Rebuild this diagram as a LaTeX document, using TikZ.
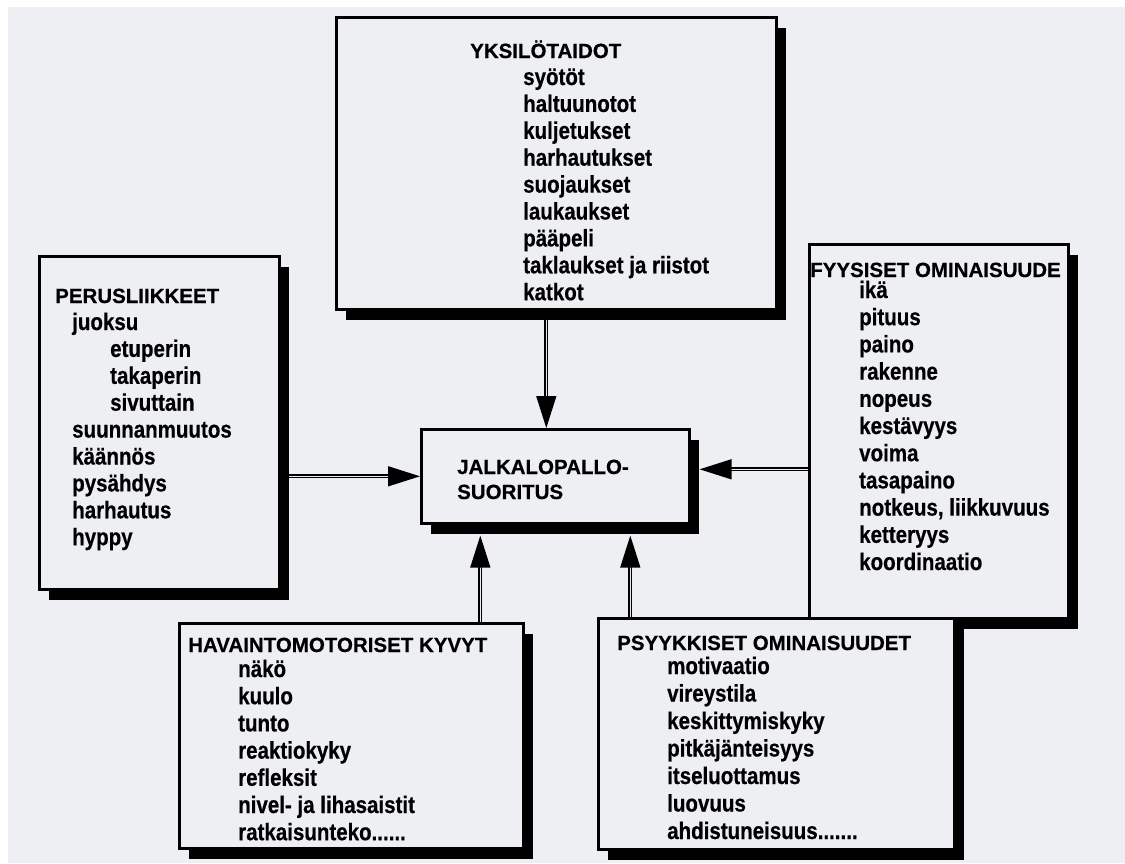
\documentclass[tikz,border=0pt]{standalone}
\usepackage{fontspec}
\setmainfont{Liberation Sans}[FakeBold=0.5]
\newfontfamily\itemfont{Liberation Sans}[FakeStretch=0.855, FakeBold=0.5]
\usetikzlibrary{arrows.meta,shadows,backgrounds}
\definecolor{paper}{RGB}{237,239,242}
\newcommand{\mysixdots}{......}
\newcommand{\mysevendots}{.......}
\begin{document}
\begin{tikzpicture}[x=1pt,y=-1pt,
  box/.style={draw=black, line width=2.6pt, fill=paper, anchor=north west, inner sep=0pt,
    general shadow={fill=black, shadow xshift=10pt, shadow yshift=-11pt}},
  txt/.style={anchor=base west, inner sep=0pt, font=\bfseries\fontsize{20.5}{24}\selectfont},
  itm/.style={anchor=base west, inner sep=0pt, font=\itemfont\bfseries\fontsize{24}{28}\selectfont},
  conn/.style={line width=1.4pt, double=paper, double distance=1.4pt,
    -{Triangle[length=32pt,width=20pt]}}]
\useasboundingbox (0,0) rectangle (1125,863);

% boxes
\node[box, minimum width=440pt, minimum height=292pt] (yks) at (335,16) {};
\node[box, minimum width=240pt, minimum height=333pt] (per) at (38,255) {};
\node[box, minimum width=259pt, minimum height=374pt] (fyy) at (808,243) {};
\node[box, minimum width=268pt, minimum height=94pt] (jal) at (420,428) {};
\node[box, minimum width=344pt, minimum height=225pt] (hav) at (178,622) {};
\node[box, minimum width=356pt, minimum height=231pt] (psy) at (597,617) {};

% texts
\node[txt] (yksT) at (470,58) {YKSILÖTAIDOT};
\foreach \t [count=\i] in {syötöt, haltuunotot, kuljetukset, harhautukset, suojaukset,
  laukaukset, pääpeli, taklaukset ja riistot, katkot}
  \node[itm] (yks\i) at (523,{85+26.9*(\i-1)}) {\t};

\node[txt] (perT) at (55,303) {PERUSLIIKKEET};
\foreach \xx/\t [count=\i] in {72/juoksu, 110/etuperin, 110/takaperin, 110/sivuttain,
  72/suunnanmuutos, 72/käännös, 72/pysähdys, 72/harhautus, 72/hyppy}
  \node[itm] (per\i) at (\xx,{330+26.9*(\i-1)}) {\t};

\node[txt] (fyyT) at (810,277) {FYYSISET OMINAISUUDE};
\foreach \t [count=\i] in {ikä, pituus, paino, rakenne, nopeus, kestävyys, voima,
  tasapaino, {notkeus, liikkuvuus}, ketteryys, koordinaatio}
  \node[itm] (fyy\i) at (859,{298+27.2*(\i-1)}) {\t};

\node[txt] (jal1) at (457,474) {JALKALOPALLO-};
\node[txt] (jal2) at (457,499) {SUORITUS};

\node[txt] (havT) at (188,652) {HAVAINTOMOTORISET KYVYT};
\foreach \t [count=\i] in {näkö, kuulo, tunto, reaktiokyky, refleksit,
  nivel- ja lihasaistit, ratkaisunteko\mysixdots}
  \node[itm] (hav\i) at (238,{677+27.2*(\i-1)}) {\t};

\node[txt] (psyT) at (617,650) {PSYYKKISET OMINAISUUDET};
\foreach \t [count=\i] in {motivaatio, vireystila, keskittymiskyky, pitkäjänteisyys,
  itseluottamus, luovuus, ahdistuneisuus\mysevendots}
  \node[itm] (psy\i) at (667,{674+27.5*(\i-1)}) {\t};

\coordinate (b1) at ([xshift=-75pt,yshift=-11pt]jal.south);
\coordinate (b2) at ([xshift=75pt,yshift=-11pt]jal.south);

\begin{pgfonlayer}{background}
  \fill[white] (0,0) rectangle (1125,863);
  \fill[paper] (8,7) rectangle (1125,863);
  \draw[conn] ([xshift=-10pt]yks.south) -- ([xshift=-9pt]jal.north);
  \draw[conn] (jal.west -| per.east) -- (jal.west);
  \draw[conn] ([yshift=7pt]jal.east -| fyy.west) -- ([xshift=9pt,yshift=7pt]jal.east);
  \draw[conn] (hav.north -| b1) -- (b1);
  \draw[conn] (psy.north -| b2) -- (b2);
\end{pgfonlayer}
\end{tikzpicture}
\end{document}
